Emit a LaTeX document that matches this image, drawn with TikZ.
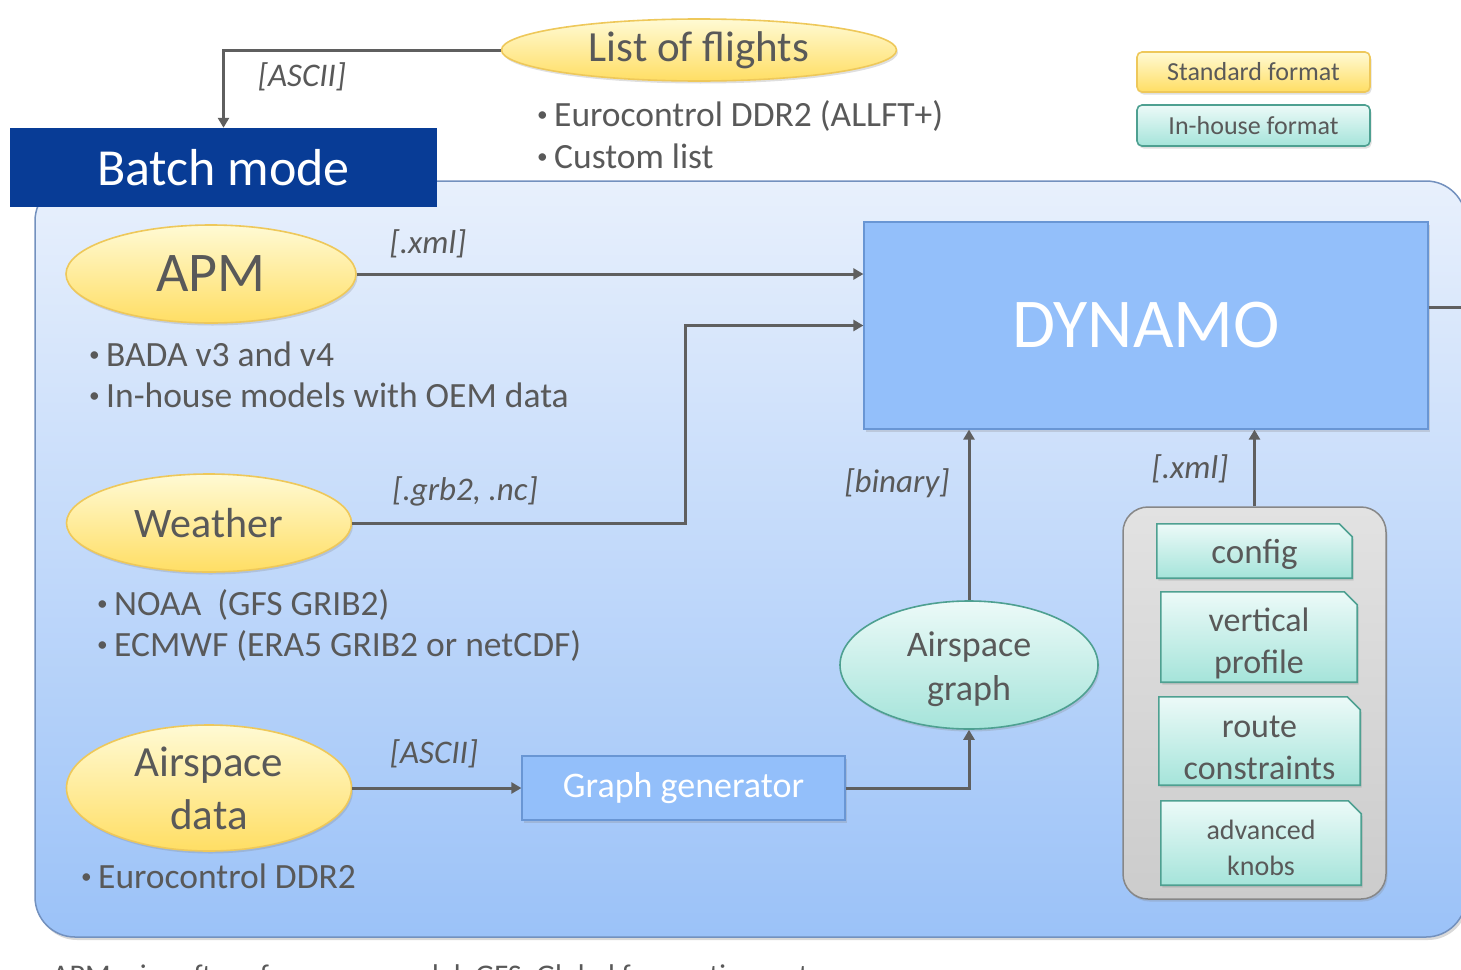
\documentclass[tikz,border=0pt]{standalone}
\usepackage{fontspec}
\setmainfont{Carlito}
\usepackage{graphicx}
\usetikzlibrary{shapes.geometric,arrows.meta,shadows}

\definecolor{ink}{RGB}{89,89,89}
\definecolor{wire}{RGB}{95,95,95}
\definecolor{navy}{RGB}{8,60,150}
\definecolor{panelTop}{RGB}{232,240,252}
\definecolor{panelBot}{RGB}{155,194,248}
\definecolor{panelLine}{RGB}{115,145,190}
\definecolor{proc}{RGB}{147,191,250}
\definecolor{procLine}{RGB}{105,150,212}
\definecolor{yelTop}{RGB}{255,250,212}
\definecolor{yelBot}{RGB}{255,222,100}
\definecolor{yelLine}{RGB}{238,200,90}
\definecolor{tealTop}{RGB}{236,250,248}
\definecolor{tealBot}{RGB}{165,228,218}
\definecolor{tealLine}{RGB}{78,160,145}
\definecolor{greyTop}{RGB}{226,226,226}
\definecolor{greyBot}{RGB}{204,204,204}
\definecolor{greyLine}{RGB}{135,135,135}

\newcommand\itembul{\raisebox{0.12em}{\scalebox{0.6}{\textbullet}}\hspace{0.18em}}

\pgfdeclarelayer{panels}
\pgfdeclarelayer{sheets}
\pgfsetlayers{panels,sheets,main}

\tikzset{
  fsz/.style 2 args={font=\fontsize{#1}{#2}\selectfont},
  softshadow/.style={drop shadow={opacity=0.25,shadow xshift=1.5pt,shadow yshift=-2.5pt}},
  stdfmt/.style={draw=yelLine, line width=1.6pt, top color=yelTop, bottom color=yelBot, text=ink},
  inhfmt/.style={draw=tealLine, line width=1.6pt, top color=tealTop, bottom color=tealBot, text=ink},
  oval/.style={ellipse, inner sep=0pt, align=center, softshadow},
  procbox/.style={rectangle, fill=proc, draw=procLine, line width=1.2pt, text=white, inner sep=0pt, softshadow},
  filetext/.style={rectangle, text=ink, align=center, inner sep=0pt},
  sheet/.style={inhfmt, softshadow},
  legendbox/.style={rectangle, rounded corners=5pt, inner sep=0pt,
    minimum width=233pt, fsz={26}{30}, softshadow},
  arr/.style={draw=wire, line width=3pt, -{Triangle[length=10pt,width=11pt]}},
  lbl/.style={text=ink, inner sep=0pt, font=\itshape\fontsize{33}{36}\selectfont},
  bul/.style={anchor=base west, text=ink, inner sep=0pt, fsz={35.5}{40}},
}

% sheet with its top-right corner cut off, drawn round a named node
\newcommand\snipsheet[1]{%
  \begin{pgfonlayer}{sheets}
    \path[sheet] (#1.south west) -- (#1.north west) -- ([xshift=-13pt]#1.north east)
      -- ([yshift=-13pt]#1.north east) -- (#1.south east) -- cycle;
  \end{pgfonlayer}}

\begin{document}
\begin{tikzpicture}[x=1pt,y=-1pt]
\useasboundingbox (0,0) rectangle (1461,969);
\clip (0,0) rectangle (1461,969);

% batch-mode panel
\begin{pgfonlayer}{panels}
\draw[draw=panelLine, line width=1.5pt, top color=panelTop, bottom color=panelBot,
      rounded corners=40pt, drop shadow={opacity=0.3,shadow xshift=2pt,shadow yshift=-3pt}]
  (35,181) rectangle (1466,937);
\end{pgfonlayer}

\node[rectangle, fill=navy, text=white, inner sep=0pt, minimum width=427pt,
      minimum height=79pt, fsz={52}{56}] (batch) at (223.5,167.5) {Batch mode};

% legend
\node[legendbox, stdfmt, minimum height=40pt] (std) at (1253.5,72) {Standard format};
\node[legendbox, inhfmt, minimum height=41pt] (inh) at (1253.5,125.5) {In-house format};

% list of flights
\node[oval, stdfmt, minimum width=395pt, minimum height=62pt, fsz={43}{48}] (flights) at (699,50) {List of flights};
\node[bul] (fl1) at (537,126) {\itembul Eurocontrol DDR2 (ALLFT+)};
\node[bul] (fl2) at (537,168) {\itembul Custom list};
\draw[arr] (flights.west) -| (batch.north);
\node[lbl] (lasc1) at (302,77) {[ASCII]};

% inputs
\node[oval, stdfmt, minimum width=290pt, minimum height=98pt, fsz={56}{60}] (apm) at (211,274) {APM};
\node[bul] (apm1) at (89,366) {\itembul BADA v3 and v4};
\node[bul] (apm2) at (89,407) {\itembul In-house models with OEM data};

\node[oval, stdfmt, minimum width=285pt, minimum height=98pt, fsz={42}{48}] (wx) at (209,523) {Weather};
\node[bul] (wx1) at (97,615) {\itembul NOAA\ \ (GFS GRIB2)};
\node[bul] (wx2) at (97,656) {\itembul ECMWF (ERA5 GRIB2 or netCDF)};

\node[oval, stdfmt, minimum width=285pt, minimum height=126pt, fsz={43}{53}] (asd) at (209,788) {Airspace\\data};
\node[bul] (asd1) at (81,888) {\itembul Eurocontrol DDR2};

% processing
\node[procbox, minimum width=564pt, minimum height=207pt, fsz={70}{74}] (dyn) at (1146,325.5) {DYNAMO};
\node[procbox, minimum width=323pt, minimum height=64pt, fsz={36}{40}] (gen) at (683.5,788) {Graph generator};
\node[oval, inhfmt, minimum width=258pt, minimum height=128pt,
      label={[filetext, yshift=-4pt, fsz={36}{44}]center:Airspace\\graph}] (ag) at (969,665) {};

% configuration files
\begin{pgfonlayer}{panels}
\node[rectangle, rounded corners=25pt, draw=greyLine, line width=1.5pt,
      top color=greyTop, bottom color=greyBot, minimum width=263pt, minimum height=392pt,
      softshadow] (files) at (1254.5,703) {};
\end{pgfonlayer}
\node[filetext, minimum width=195pt, minimum height=54pt, text depth=4pt, fsz={35}{42}]
  (cfg) at (1254.5,551) {\raisebox{-5pt}{config}};
\node[filetext, minimum width=196pt, minimum height=90pt, fsz={34}{42}]
  (vp) at (1259,637) {\rule{0pt}{36pt}vertical\\profile};
\node[filetext, minimum width=201pt, minimum height=88pt, fsz={34}{42}]
  (rc) at (1259.5,741) {\rule{0pt}{36pt}route\\constraints};
\node[filetext, minimum width=200pt, minimum height=84pt, fsz={28}{36}]
  (ak) at (1261,843) {\rule{0pt}{30pt}advanced\\knobs};
\snipsheet{cfg}
\snipsheet{vp}
\snipsheet{rc}
\snipsheet{ak}

% connectors
\coordinate (bend) at (685,0);
\coordinate (out) at (1480,307);
\draw[arr] (apm.east) -- (apm.east -| dyn.west);
\node[lbl] (lxml1) at (428,244) {[.xml]};
\draw[arr] (wx.east) -| (bend |- dyn.west) -- (dyn.west);
\node[lbl] (lgrb) at (465,491) {[.grb2, .nc]};
\draw[arr] (asd.east) -- (gen.west);
\node[lbl] (lasc2) at (434,754) {[ASCII]};
\draw[arr] (gen.east) -| (ag.south);
\draw[arr] (ag.north) -- (ag.north |- dyn.south);
\node[lbl] (lbin) at (897,483) {[binary]};
\draw[arr] (files.north) -- (files.north |- dyn.south);
\node[lbl] (lxml2) at (1190,469) {[.xml]};
\draw[draw=wire, line width=3pt] (dyn.east |- out) -- (out);

% footnote
\node[anchor=base west, text=ink, inner sep=0pt, fsz={30}{34}] (note) at (52,985)
  {APM: aircraft performance model; GFS: Global forecasting system};
\end{tikzpicture}
\end{document}
